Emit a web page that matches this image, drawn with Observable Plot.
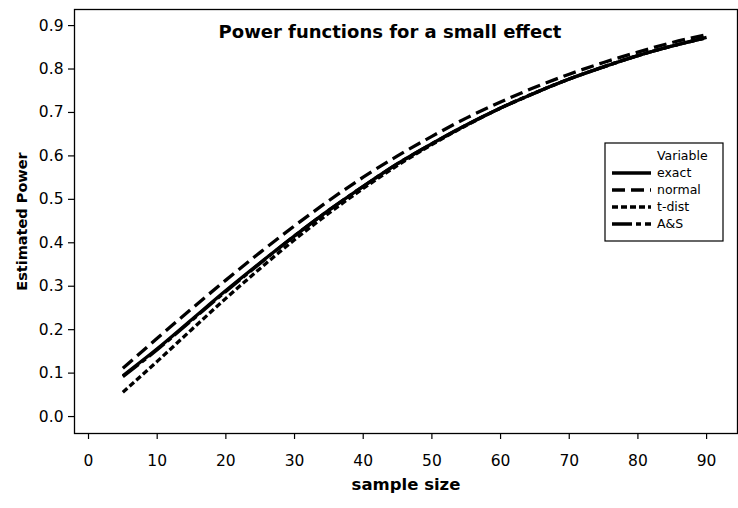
<!DOCTYPE html>
<html><head><meta charset="utf-8">
<script src="https://cdn.jsdelivr.net/npm/d3@7"></script>
<script src="https://cdn.jsdelivr.net/npm/@observablehq/plot@0.6"></script>
<style>body{margin:0;background:#fff}</style>
</head><body><div id="chart"></div>
<script>
const sampleSize = [5,10,15,20,25,30,35,40,45,50,55,60,65,70,75,80,85,90];
const exact  = [0.094,0.156,0.223,0.290,0.354,0.416,0.475,0.530,0.582,0.628,0.671,0.710,0.745,0.777,0.805,0.831,0.853,0.873];
const normal = [0.111,0.180,0.248,0.314,0.378,0.439,0.497,0.551,0.600,0.645,0.687,0.724,0.758,0.788,0.815,0.839,0.861,0.879];
const tdist  = [0.056,0.127,0.200,0.272,0.341,0.407,0.468,0.525,0.578,0.626,0.670,0.710,0.745,0.777,0.805,0.831,0.853,0.872];
const asApprox = [0.092,0.154,0.221,0.288,0.353,0.416,0.475,0.530,0.582,0.628,0.671,0.710,0.745,0.777,0.805,0.831,0.853,0.872];
const seriesNames = ["exact","normal","t-dist","A&S"];
const seriesValues = [exact, normal, tdist, asApprox];
const xTicks = [0,10,20,30,40,50,60,70,80,90];
const yTicks = [0,0.1,0.2,0.3,0.4,0.5,0.6,0.7,0.8,0.9];
const titleText = "Power functions for a small effect";
const xLabel = "sample size";
const yLabel = "Estimated Power";
const legendTitle = "Variable";

const dashes = {"exact": "none", "normal": "13,6", "t-dist": "6,3", "A&S": "20,4,5,4"};

const rows = [];
seriesNames.forEach((name, i) => {
  sampleSize.forEach((n, j) => rows.push({series: name, n, power: seriesValues[i][j]}));
});

const font = "DejaVu Sans";

const chart = Plot.plot({
  width: 738, height: 508,
  marginLeft: 74, marginTop: 9, marginRight: 1, marginBottom: 75,
  style: {fontFamily: font, fontSize: "15px", color: "#000", background: "#fff"},
  x: {domain: [-2.04, 94.5]},
  y: {domain: [-0.039, 0.937]},
  marks: [
    Plot.frame({stroke: "#000", strokeWidth: 1.3}),
    Plot.axisX({ticks: xTicks, tickSize: 6, tickPadding: 15, label: null, fontSize: 15.5, strokeWidth: 1.2}),
    Plot.axisY({ticks: yTicks, tickSize: 6, tickPadding: 5, tickFormat: d3.format(".1f"), label: null, fontSize: 15.5, strokeWidth: 1.2}),
    ...seriesNames.map(name => Plot.line(rows.filter(d => d.series === name), {
      x: "n", y: "power", stroke: "#000", strokeWidth: 3.3, strokeLinecap: "butt",
      strokeDasharray: dashes[name], curve: "monotone-x"
    })),
    Plot.text([titleText], {frameAnchor: "top", dx: -16, dy: 16, fontWeight: "bold", fontSize: 18}),
    Plot.text([xLabel], {frameAnchor: "bottom", dy: 56, fontWeight: "bold", fontSize: 16.5}),
    Plot.text([yLabel], {frameAnchor: "left", dx: -52, rotate: -90, textAnchor: "middle", fontWeight: "bold", fontSize: 14.5})
  ]
});
document.getElementById("chart").appendChild(chart);

// Legend box
const svg = d3.select(chart);
const lg = svg.append("g").attr("font-family", font).attr("font-size", 12.5).attr("text-anchor", "start");
lg.append("rect").attr("x", 605).attr("y", 143).attr("width", 118).attr("height", 98)
  .attr("fill", "#fff").attr("stroke", "#000").attr("stroke-width", 1.2);
lg.append("text").attr("x", 657).attr("y", 156).attr("dy", "0.35em").text(legendTitle);
seriesNames.forEach((name, i) => {
  const y = 173 + i * 17;
  lg.append("line").attr("x1", 612).attr("x2", 651).attr("y1", y).attr("y2", y)
    .attr("stroke", "#000").attr("stroke-width", 3.3)
    .attr("stroke-dasharray", dashes[name]);
  lg.append("text").attr("x", 657).attr("y", y).attr("dy", "0.35em").text(name);
});
</script></body></html>
